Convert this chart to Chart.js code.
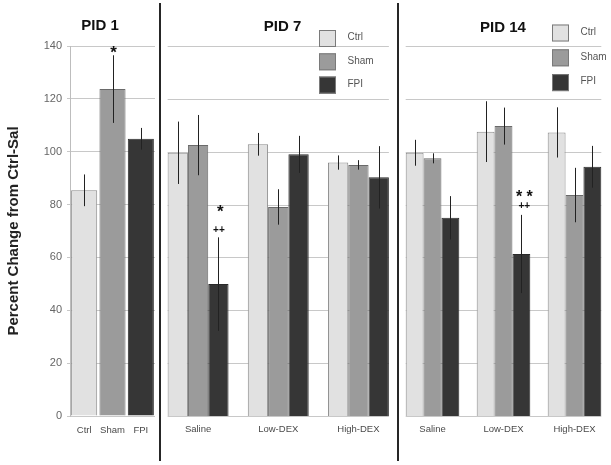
<!DOCTYPE html>
<html><head><meta charset="utf-8">
<script src="https://cdn.jsdelivr.net/npm/chart.js@4.4.0/dist/chart.umd.min.js"></script>
<style>
html,body{margin:0;padding:0;background:#fff;width:611px;height:465px;overflow:hidden;position:relative;}
canvas{position:absolute;top:0;}
.sep{position:absolute;top:3px;width:2px;height:458px;background:#262626;}
</style></head><body>
<canvas id="c1" width="200" height="465" style="left:0px"></canvas>
<canvas id="c2" width="265" height="465" style="left:150px"></canvas>
<canvas id="c3" width="216" height="465" style="left:395px"></canvas>
<div class="sep" style="left:159px"></div>
<div class="sep" style="left:397px"></div>
<script>
// ---- data ----
const seriesNames = ['Ctrl', 'Sham', 'FPI'];
const groupLabels = ['Saline', 'Low-DEX', 'High-DEX'];
const yTicks = [0, 20, 40, 60, 80, 100, 120, 140];

const pid1Values = [85.4, 123.7, 104.9];
const pid1Errors = [6.0, 12.8, 4.1];

const pid7Ctrl = [99.6, 102.8, 95.9];
const pid7CtrlErr = [11.8, 4.3, 2.7];
const pid7Sham = [102.5, 79.1, 95.0];
const pid7ShamErr = [11.4, 6.7, 1.8];
const pid7Fpi = [49.9, 99.0, 90.3];
const pid7FpiErr = [17.7, 7.0, 11.8];

const pid14Ctrl = [99.6, 107.6, 107.3];
const pid14CtrlErr = [4.9, 11.5, 9.5];
const pid14Sham = [97.5, 109.7, 83.6];
const pid14ShamErr = [1.9, 7.0, 10.3];
const pid14Fpi = [75.0, 61.3, 94.3];
const pid14FpiErr = [8.2, 14.8, 7.9];

const pid1Marks = ['*'];
const pid7Marks = ['*', '++'];
const pid14Marks = ['* *', '++'];

// ---- style ----
const FAMILY = "'Liberation Sans', Arial, Helvetica, sans-serif";
Chart.defaults.font.family = FAMILY;
const fills = ['#e1e1e1', '#9b9b9b', '#363636'];
const borders = ['#8a8a8a', '#6a6a6a', '#2a2a2a'];

// ---- plugins ----
const errorBarPlugin = {
  id: 'errorBars',
  afterDatasetsDraw(chart) {
    const ctx = chart.ctx, ys = chart.scales.y;
    ctx.save();
    ctx.strokeStyle = '#222';
    ctx.lineWidth = 1;
    chart.data.datasets.forEach((ds, di) => {
      if (!ds.errors) return;
      chart.getDatasetMeta(di).data.forEach((bar, i) => {
        const v = ds.data[i], e = ds.errors[i];
        const x = Math.round(bar.x) + 0.5;
        ctx.beginPath();
        ctx.moveTo(x, ys.getPixelForValue(v + e));
        ctx.lineTo(x, ys.getPixelForValue(v - e));
        ctx.stroke();
      });
    });
    ctx.restore();
  }
};

const barGridPlugin = {
  id: 'barGrid',
  beforeDatasetsDraw(chart, args, opts) {
    if (!opts || !opts.display) return;
    let l = Infinity, r = -Infinity;
    chart.data.datasets.forEach((ds, di) => {
      chart.getDatasetMeta(di).data.forEach(b => {
        l = Math.min(l, b.x - b.width / 2);
        r = Math.max(r, b.x + b.width / 2);
      });
    });
    const ctx = chart.ctx, ys = chart.scales.y;
    ctx.save();
    ctx.strokeStyle = '#c8c8c8';
    ctx.lineWidth = 1;
    yTicks.forEach(v => {
      const p = Math.round(ys.getPixelForValue(v)) + 0.5;
      ctx.beginPath();
      ctx.moveTo(l, p);
      ctx.lineTo(r, p);
      ctx.stroke();
    });
    ctx.restore();
  }
};

const boxLegendPlugin = {
  id: 'boxLegend',
  afterDraw(chart, args, opts) {
    if (!opts || !opts.display) return;
    const ctx = chart.ctx;
    ctx.save();
    chart.data.datasets.forEach((ds, i) => {
      const y = opts.y + i * opts.gap;
      ctx.fillStyle = ds.backgroundColor;
      ctx.fillRect(opts.x, y, opts.size, opts.size);
      ctx.strokeStyle = '#7a7a7a';
      ctx.lineWidth = 1;
      ctx.strokeRect(opts.x + 0.5, y + 0.5, opts.size - 1, opts.size - 1);
      ctx.fillStyle = '#555';
      ctx.font = '10px ' + FAMILY;
      ctx.textAlign = 'left';
      ctx.textBaseline = 'middle';
      ctx.fillText(ds.label, opts.textX, y + opts.size / 2 - 1);
    });
    ctx.restore();
  }
};

const annotPlugin = {
  id: 'annot',
  afterDatasetsDraw(chart, args, opts) {
    if (!opts || !opts.items) return;
    const ctx = chart.ctx, ys = chart.scales.y;
    ctx.save();
    ctx.fillStyle = '#111';
    ctx.textAlign = 'center';
    ctx.textBaseline = 'alphabetic';
    opts.items.forEach(it => {
      const ds = chart.data.datasets[it.ds];
      const bar = chart.getDatasetMeta(it.ds).data[it.i];
      const top = ys.getPixelForValue(ds.data[it.i] + ds.errors[it.i]);
      ctx.font = it.font + ' ' + FAMILY;
      ctx.fillText(it.text, bar.x + it.dx, top + it.dy);
    });
    ctx.restore();
  }
};

function titleOpts(text, top, bottom) {
  return {display: true, text: text, color: '#111',
          font: {size: 15, weight: 'bold', family: FAMILY},
          padding: {top: top, bottom: bottom}};
}
function xScale(pad) {
  return {
    grid: {display: false, drawTicks: false},
    border: {display: false},
    ticks: {font: {size: 9.5}, color: '#4a4a4a', padding: pad, maxRotation: 0, autoSkip: false},
    afterFit(s) { s.height = 49; }
  };
}
function hiddenY(w) {
  return {
    min: 0, max: 140,
    ticks: {display: false},
    grid: {display: false, drawTicks: false},
    border: {display: false},
    afterBuildTicks(s) { s.ticks = yTicks.map(v => ({value: v})); },
    afterFit(s) { s.width = w; }
  };
}
function dummyRight(w) {
  return {
    position: 'right', display: true,
    ticks: {display: false},
    grid: {display: false, drawTicks: false},
    border: {display: false},
    afterFit(s) { s.width = w; }
  };
}
function groupDatasets(vals, errs, pct) {
  return seriesNames.map((n, k) => ({
    label: n, data: vals[k], errors: errs[k],
    backgroundColor: fills[k], borderColor: borders[k], borderWidth: 1,
    categoryPercentage: pct, barPercentage: 1
  }));
}

// ---- PID 1 ----
new Chart(document.getElementById('c1'), {
  type: 'bar',
  data: {
    labels: seriesNames,
    datasets: [{
      label: 'PID 1', data: pid1Values, errors: pid1Errors,
      backgroundColor: fills, borderColor: borders, borderWidth: 1,
      categoryPercentage: 0.92, barPercentage: 1
    }]
  },
  options: {
    responsive: false, animation: false, devicePixelRatio: 1,
    layout: {padding: 0},
    plugins: {
      legend: {display: false}, tooltip: {enabled: false},
      title: titleOpts('PID 1', 17, 11),
      annot: {items: [{ds: 0, i: 1, text: pid1Marks[0], font: 'bold 17px', dx: 1, dy: 3}]}
    },
    scales: {
      x: xScale(9),
      y: {
        min: 0, max: 140,
        afterBuildTicks(s) { s.ticks = yTicks.map(v => ({value: v})); },
        ticks: {font: {size: 11}, color: '#666', padding: 5},
        grid: {color: '#c8c8c8', tickLength: 3},
        border: {color: '#bdbdbd'},
        title: {display: true, text: 'Percent Change from Ctrl-Sal', color: '#222',
                font: {size: 15, weight: 'bold'}, padding: {top: 5, bottom: 0}},
        afterFit(s) { s.width = 70; }
      },
      yR: dummyRight(45)
    }
  },
  plugins: [errorBarPlugin, annotPlugin]
});

// ---- PID 7 ----
new Chart(document.getElementById('c2'), {
  type: 'bar',
  data: {
    labels: groupLabels,
    datasets: groupDatasets([pid7Ctrl, pid7Sham, pid7Fpi], [pid7CtrlErr, pid7ShamErr, pid7FpiErr], 0.76)
  },
  options: {
    responsive: false, animation: false, devicePixelRatio: 1,
    layout: {padding: 0},
    plugins: {
      legend: {display: false}, tooltip: {enabled: false},
      title: titleOpts('PID 7', 18, 10),
      barGrid: {display: true},
      boxLegend: {display: true, x: 169, y: 30, gap: 23.3, size: 17, textX: 197.5},
      annot: {items: [
        {ds: 2, i: 0, text: pid7Marks[0], font: 'bold 17px', dx: 2, dy: -20},
        {ds: 2, i: 0, text: pid7Marks[1], font: 'bold 10px', dx: 0.5, dy: -4.5}
      ]}
    },
    scales: {
      x: xScale(8),
      y: hiddenY(8),
      yR: dummyRight(16.5)
    }
  },
  plugins: [barGridPlugin, errorBarPlugin, boxLegendPlugin, annotPlugin]
});

// ---- PID 14 ----
new Chart(document.getElementById('c3'), {
  type: 'bar',
  data: {
    labels: groupLabels,
    datasets: groupDatasets([pid14Ctrl, pid14Sham, pid14Fpi], [pid14CtrlErr, pid14ShamErr, pid14FpiErr], 0.755)
  },
  options: {
    responsive: false, animation: false, devicePixelRatio: 1,
    layout: {padding: 0},
    plugins: {
      legend: {display: false}, tooltip: {enabled: false},
      title: titleOpts('PID 14', 19, 9),
      barGrid: {display: true},
      boxLegend: {display: true, x: 157, y: 24.5, gap: 24.8, size: 17, textX: 185.5},
      annot: {items: [
        {ds: 2, i: 1, text: pid14Marks[0], font: 'bold 16px', dx: 3, dy: -13},
        {ds: 2, i: 1, text: pid14Marks[1], font: 'bold 10px', dx: 3, dy: -5.5}
      ]}
    },
    scales: {
      x: xScale(8),
      y: hiddenY(2),
      yR: dummyRight(1)
    }
  },
  plugins: [barGridPlugin, errorBarPlugin, boxLegendPlugin, annotPlugin]
});
</script>
</body></html>
